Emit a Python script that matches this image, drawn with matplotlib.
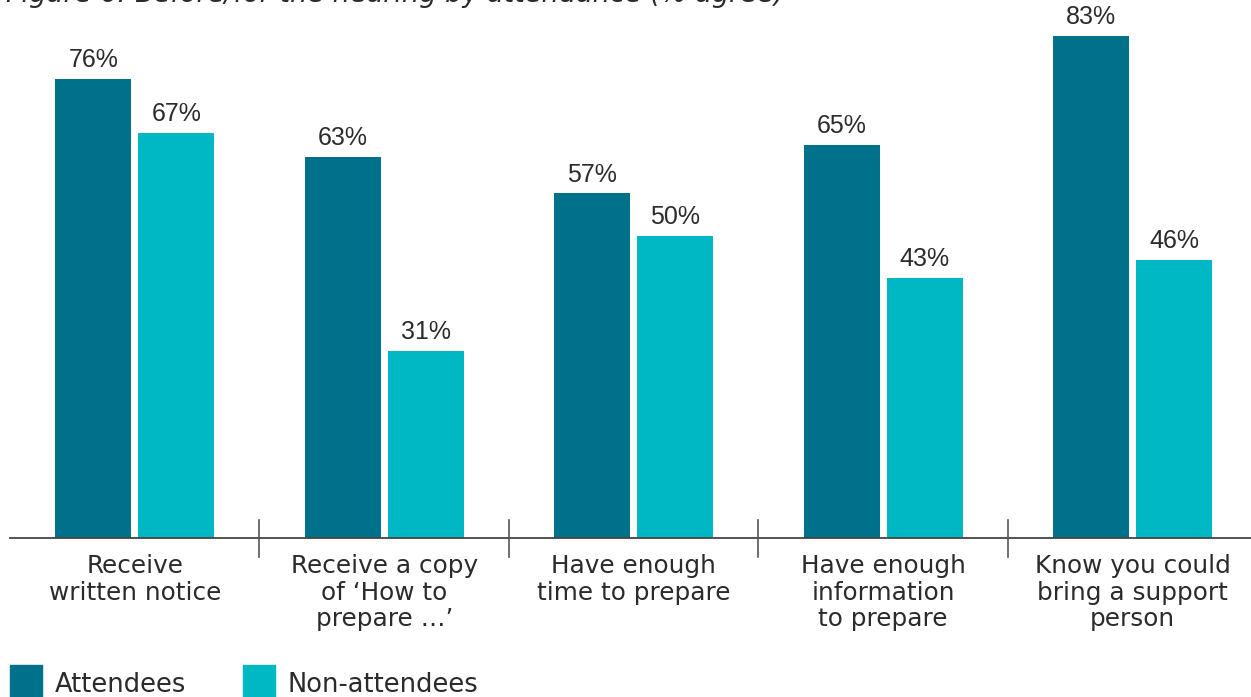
import matplotlib.pyplot as plt
import numpy as np

# Survey results (% agree)
categories = ["Receive\nwritten notice",
              "Receive a copy\nof \u2018How to\nprepare \u2026\u2019",
              "Have enough\ntime to prepare",
              "Have enough\ninformation\nto prepare",
              "Know you could\nbring a support\nperson"]
attendees = [76, 63, 57, 65, 83]
non_attendees = [67, 31, 50, 43, 46]
series_names = ["Attendees", "Non-attendees"]

dark = "#00718B"
light = "#00B8C4"
text_col = "#2b2b2b"
label_font = "DejaVu Sans"
value_font = "Liberation Sans"

fig = plt.figure(figsize=(12.51, 6.97), dpi=100)
W, H = 1251, 697
# axes spans from the baseline (y=538px) to the top of the figure
ax = fig.add_axes([10 / W, (H - 538) / H, (W - 10) / W, 538 / H])
ax.set_xlim(-0.5, 4.474)
ax.set_ylim(0, 89)
ax.axis("off")

x = np.arange(len(categories))
bw = 0.3046
off = 0.1663
b1 = ax.bar(x - off, attendees, bw, color=dark)
b2 = ax.bar(x + off, non_attendees, bw, color=light)

for bars, vals in [(b1, attendees), (b2, non_attendees)]:
    for rect, v in zip(bars, vals):
        ax.annotate(f"{v}%", (rect.get_x() + rect.get_width() / 2, v),
                    xytext=(0, 8.5), textcoords="offset points",
                    ha="center", va="baseline", fontsize=18,
                    family=value_font, color=text_col)

# baseline and group separators
ax.plot([-0.5, 4.6], [0, 0], color="#444444", lw=1.3, clip_on=False)
for s in x[:-1] + 0.5:
    ax.plot([s, s], [3.0, -3.1], color="#555555", lw=1.2, clip_on=False)

for xi, cat in zip(x, categories):
    ax.text(xi, -2.6, cat, ha="center", va="top", fontsize=17.8,
            family=label_font, color=text_col, linespacing=1.15)

# legend squares
for i, (name, col) in enumerate(zip(series_names, [dark, light])):
    x0 = [10, 243][i]
    fig.patches.append(plt.Rectangle((x0 / W, 0), 32 / W, 32 / H,
                                     transform=fig.transFigure,
                                     color=col, figure=fig))
    fig.text((x0 + 45) / W, 5 / H, name, fontsize=18.5, family=label_font,
             color=text_col, va="baseline")

fig.text(6 / W, 1 - 2.5 / H, "Figure 6: Before/for the hearing by attendance (% agree)",
         fontsize=19.5, style="italic", family=label_font, color=text_col,
         va="baseline")

fig.savefig("out.png", dpi=100)
